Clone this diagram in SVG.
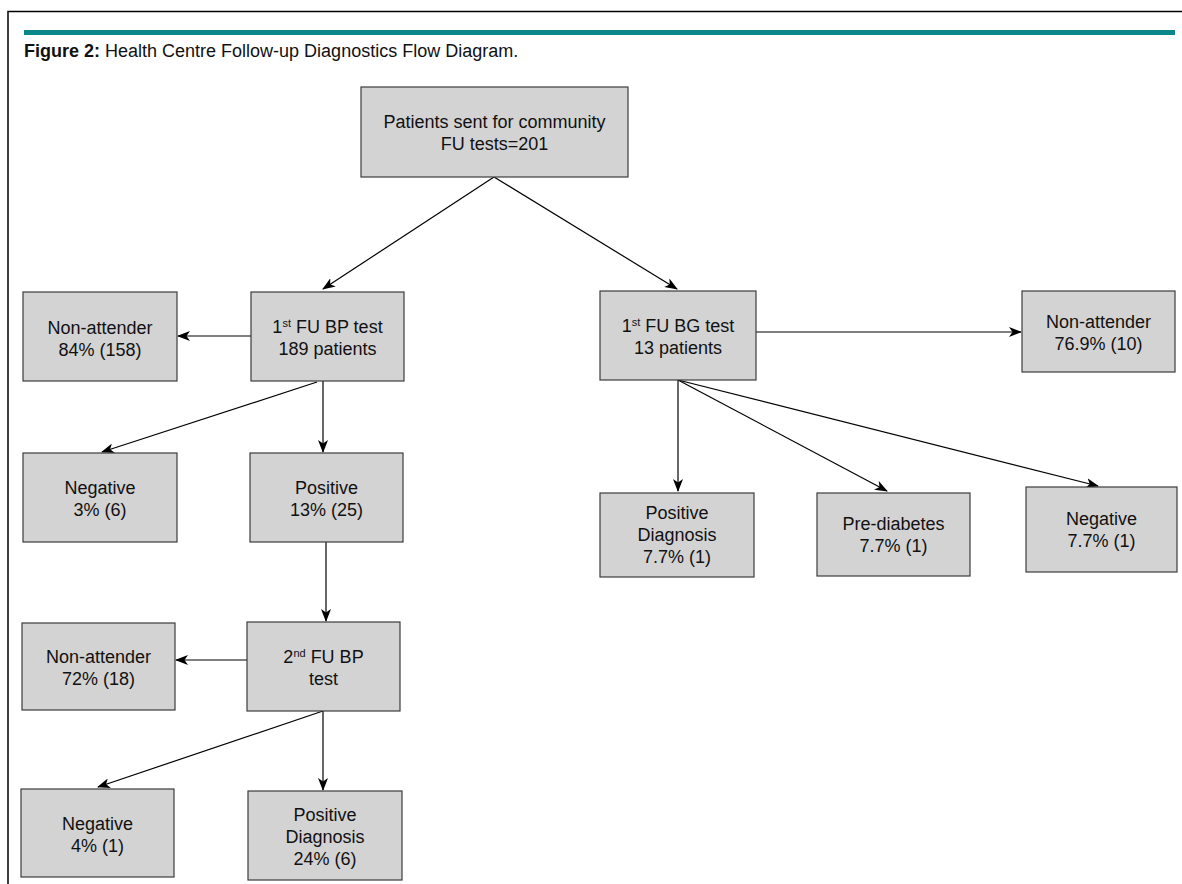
<svg xmlns="http://www.w3.org/2000/svg" width="1182" height="884" viewBox="0 0 1182 884">
<style>
.box{fill:#d3d3d3;stroke:#3c3c3c;stroke-width:1.2}
.t{font-family:"Liberation Sans",Arial,sans-serif;font-size:18px;fill:#111;text-anchor:middle}
.sup{font-size:11px}
.c{stroke:#000;stroke-width:1.2;fill:none;marker-end:url(#ah)}
</style>
<defs>
<marker id="ah" viewBox="0 0 13 10" refX="12" refY="5" markerWidth="13" markerHeight="10" markerUnits="userSpaceOnUse" orient="auto">
<path d="M0,0 L13,5 L0,10 L3.5,5 Z" fill="#000"/>
</marker>
</defs>
<rect width="1182" height="884" fill="#fff"/>
<path d="M8,884 V11.5 H1182" fill="none" stroke="#000" stroke-width="1.5"/>
<rect x="24" y="30" width="1151" height="5" fill="#0b878c"/>
<text x="24" y="57" font-family="'Liberation Sans',Arial,sans-serif" font-size="18" fill="#111"><tspan font-weight="bold">Figure 2:</tspan> Health Centre Follow-up Diagnostics Flow Diagram.</text>

<g id="connectors">
<line class="c" x1="494" y1="177" x2="323" y2="289"/>
<line class="c" x1="494" y1="177" x2="677" y2="289"/>
<line class="c" x1="251" y1="336" x2="178" y2="336"/>
<line class="c" x1="317" y1="382" x2="102" y2="452"/>
<line class="c" x1="323" y1="381" x2="323" y2="452"/>
<line class="c" x1="326" y1="542" x2="326" y2="621"/>
<line class="c" x1="247" y1="660" x2="176" y2="660"/>
<line class="c" x1="323" y1="711" x2="98" y2="787"/>
<line class="c" x1="323" y1="711" x2="323" y2="790"/>
<line class="c" x1="756" y1="332" x2="1021" y2="332"/>
<line class="c" x1="678" y1="380" x2="678" y2="491"/>
<line class="c" x1="678" y1="380" x2="887" y2="491"/>
<line class="c" x1="678" y1="380" x2="1098" y2="486"/>
</g>

<g id="n-top"><rect class="box" x="361" y="87" width="267" height="90"/>
<text class="t" x="494.5" y="128">Patients sent for community</text><text class="t" x="494.5" y="150">FU tests=201</text></g>

<g id="n-bp1"><rect class="box" x="251" y="292" width="153" height="89"/>
<text class="t" x="327.5" y="333">1<tspan class="sup" dy="-6">st</tspan><tspan dy="6"> FU BP test</tspan></text><text class="t" x="327.5" y="355">189 patients</text></g>

<g id="n-na1"><rect class="box" x="23" y="292" width="154" height="89"/>
<text class="t" x="100" y="334">Non-attender</text><text class="t" x="100" y="356">84% (158)</text></g>

<g id="n-neg1"><rect class="box" x="23" y="453" width="154" height="89"/>
<text class="t" x="100" y="494">Negative</text><text class="t" x="100" y="516">3% (6)</text></g>

<g id="n-pos1"><rect class="box" x="250" y="453" width="153" height="89"/>
<text class="t" x="326.5" y="494">Positive</text><text class="t" x="326.5" y="516">13% (25)</text></g>

<g id="n-bp2"><rect class="box" x="247" y="622" width="153" height="89"/>
<text class="t" x="323.5" y="663">2<tspan class="sup" dy="-6">nd</tspan><tspan dy="6"> FU BP</tspan></text><text class="t" x="323.5" y="685">test</text></g>

<g id="n-na2"><rect class="box" x="22" y="623" width="153" height="87"/>
<text class="t" x="98.5" y="663">Non-attender</text><text class="t" x="98.5" y="685">72% (18)</text></g>

<g id="n-neg2"><rect class="box" x="21" y="789" width="153" height="88"/>
<text class="t" x="97.5" y="830">Negative</text><text class="t" x="97.5" y="852">4% (1)</text></g>

<g id="n-pos2"><rect class="box" x="248" y="791" width="154" height="89"/>
<text class="t" x="325" y="821">Positive</text><text class="t" x="325" y="843">Diagnosis</text><text class="t" x="325" y="865">24% (6)</text></g>

<g id="n-bg1"><rect class="box" x="600" y="291" width="156" height="89"/>
<text class="t" x="678" y="332">1<tspan class="sup" dy="-6">st</tspan><tspan dy="6"> FU BG test</tspan></text><text class="t" x="678" y="354">13 patients</text></g>

<g id="n-na3"><rect class="box" x="1022" y="291" width="153" height="81"/>
<text class="t" x="1098.5" y="328">Non-attender</text><text class="t" x="1098.5" y="350">76.9% (10)</text></g>

<g id="n-posd"><rect class="box" x="600" y="493" width="154" height="84"/>
<text class="t" x="677" y="519">Positive</text><text class="t" x="677" y="541">Diagnosis</text><text class="t" x="677" y="563">7.7% (1)</text></g>

<g id="n-pre"><rect class="box" x="817" y="493" width="153" height="83"/>
<text class="t" x="893.5" y="530">Pre-diabetes</text><text class="t" x="893.5" y="552">7.7% (1)</text></g>

<g id="n-neg3"><rect class="box" x="1026" y="487" width="151" height="85"/>
<text class="t" x="1101.5" y="525">Negative</text><text class="t" x="1101.5" y="547">7.7% (1)</text></g>
</svg>
